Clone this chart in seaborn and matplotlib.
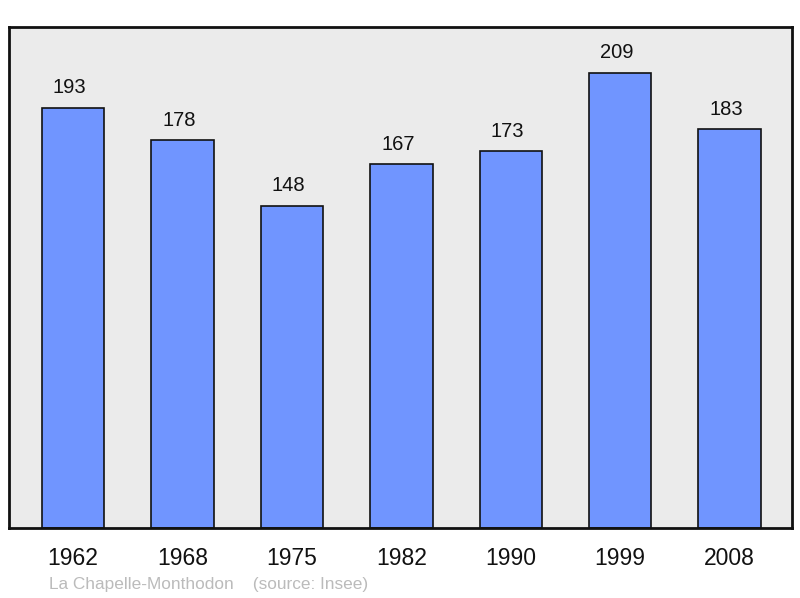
import matplotlib
matplotlib.use("Agg")
import matplotlib.pyplot as plt
import seaborn as sns
import pandas as pd

years = ["1962", "1968", "1975", "1982", "1990", "1999", "2008"]
population = [193, 178, 148, 167, 173, 209, 183]
footer = "La Chapelle-Monthodon    (source: Insee)"

df = pd.DataFrame({"year": years, "pop": population})

sns.set_style("white")
plt.rcParams["font.family"] = ["Liberation Sans", "DejaVu Sans"]

fig = plt.figure(figsize=(8, 5.98), dpi=100)
ax = fig.add_axes([9/800, 1 - 528/598, (792-9)/800, (528-27)/598])
ax.set_facecolor("#ebebeb")

sns.barplot(data=df, x="year", y="pop", color="#7095ff", saturation=1,
            width=0.57, edgecolor="#111111", linewidth=1.2, ax=ax)

for i, v in enumerate(population):
    ax.annotate(str(v), xy=(i, v), xytext=(-2.5, 7.5), textcoords="offset points",
                ha="center", va="bottom", fontsize=14.5, color="#111111")

ax.set_xlim(-0.585, 6.57)
ax.set_ylim(0, 230)
ax.set_yticks([])
ax.set_xlabel("")
ax.set_ylabel("")
ax.tick_params(axis="x", length=0, labelsize=16.5, pad=14, colors="#111111")
for s in ax.spines.values():
    s.set_visible(True)
    s.set_linewidth(2)
    s.set_color("#111111")

fig.text(49/800, 1 - 584/598, footer, fontsize=12.4, color="#bbbbbb", ha="left", va="center")

fig.savefig("out.png", dpi=100)
